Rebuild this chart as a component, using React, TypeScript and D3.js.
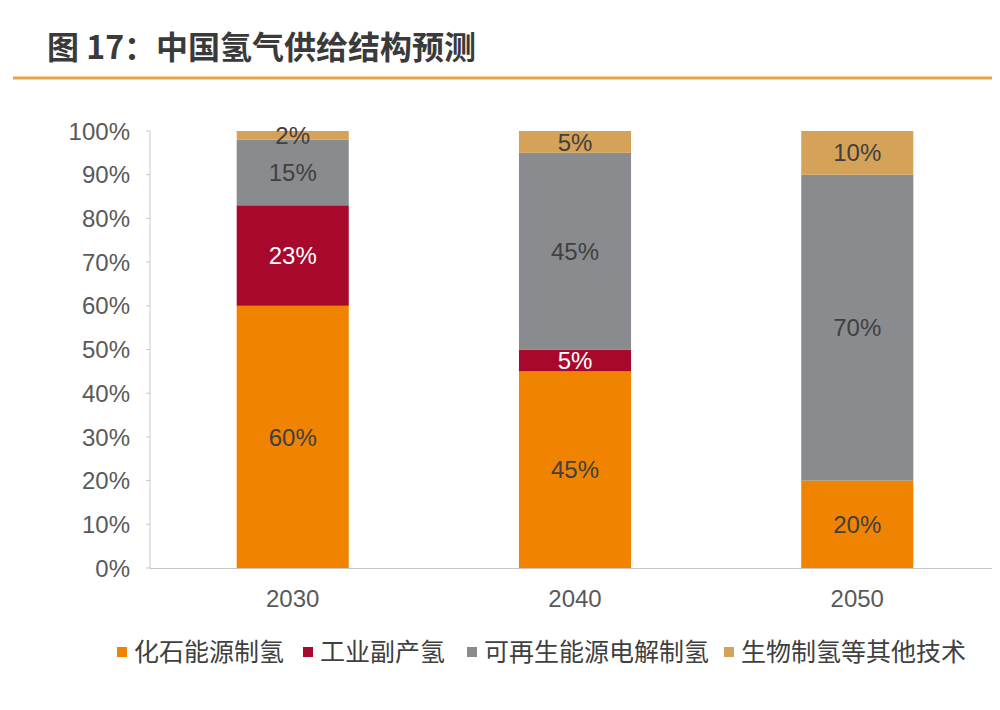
import React from "react";
import * as d3 from "d3";

const title = "图 17：中国氢气供给结构预测";
const years = ["2030", "2040", "2050"];
const seriesNames = ["化石能源制氢", "工业副产氢", "可再生能源电解制氢", "生物制氢等其他技术"];
const fossil = [60, 45, 20];
const industrial = [23, 5, 0];
const renewable = [15, 45, 70];
const biomass = [2, 5, 10];
const yTicks = [0, 10, 20, 30, 40, 50, 60, 70, 80, 90, 100];
const colors = ["#F08300", "#A8082B", "#8A8B8F", "#D4A258"];
const labelColors = ["#404040", "#FFFFFF", "#404040", "#404040"];

const W = 1000;
const H = 710;
const NUM_FONT = "'Liberation Sans', Arial, 'Noto Sans CJK SC', sans-serif";
const CJK_FONT = "'Noto Sans CJK SC', 'Liberation Sans', sans-serif";

export default function App() {
  const series = [fossil, industrial, renewable, biomass];
  const table = years.map((y, i) => {
    const row: any = { year: y };
    seriesNames.forEach((s, k) => (row[s] = series[k][i]));
    return row;
  });
  const stacked = d3.stack<any>().keys(seriesNames)(table);

  const x = d3.scaleBand<string>().domain(years).range([152, 998]).paddingInner(0.603).paddingOuter(0.3);
  const y = d3.scaleLinear().domain([0, 100]).range([568, 131]);

  const legendX = [117, 303, 467, 724];

  return (
    <div style={{ margin: -8, width: W, height: H, background: "#fff" }}>
      <svg width={W} height={H} style={{ display: "block" }}>
        <rect width={W} height={H} fill="#ffffff" />
        <text x={47} y={59} fontFamily={CJK_FONT} fontWeight={700} fontSize={32} fill="#3a3a3a">
          {title}
        </text>
        <line x1={13} x2={1000} y1={78} y2={78} stroke="#E8A445" strokeWidth={3} />

        {/* y axis */}
        <line x1={150} x2={150} y1={y(100)} y2={y(0)} stroke="#C8C8C8" strokeWidth={1} />
        {yTicks.map((t) => (
          <g key={t}>
            <line x1={146} x2={150} y1={y(t)} y2={y(t)} stroke="#C8C8C8" />
            <text
              x={130}
              y={y(t)}
              dy="0.36em"
              textAnchor="end"
              fontFamily={NUM_FONT}
              fontSize={24}
              fill="#595959"
            >
              {t}%
            </text>
          </g>
        ))}

        {/* bars */}
        {stacked.map((layer, k) => (
          <g key={layer.key}>
            {layer.map((d, i) => {
              const v = d[1] - d[0];
              if (v <= 0) return null;
              const x0 = x(years[i])!;
              return (
                <rect
                  key={i}
                  x={x0}
                  y={y(d[1])}
                  width={x.bandwidth()}
                  height={y(d[0]) - y(d[1])}
                  fill={colors[k]}
                />
              );
            })}
          </g>
        ))}
        {stacked.map((layer, k) => (
          <g key={"l" + layer.key}>
            {layer.map((d, i) => {
              const v = d[1] - d[0];
              if (v <= 0) return null;
              return (
                <text
                  key={i}
                  x={x(years[i])! + x.bandwidth() / 2}
                  y={y((d[0] + d[1]) / 2)}
                  dy="0.36em"
                  textAnchor="middle"
                  fontFamily={NUM_FONT}
                  fontSize={24}
                  fill={labelColors[k]}
                >
                  {v}%
                </text>
              );
            })}
          </g>
        ))}

        {/* x axis */}
        <line x1={150} x2={998} y1={y(0) + 0.5} y2={y(0) + 0.5} stroke="#C8C8C8" strokeWidth={1} />
        {years.map((yr) => (
          <text
            key={yr}
            x={x(yr)! + x.bandwidth() / 2}
            y={598}
            dy="0.36em"
            textAnchor="middle"
            fontFamily={NUM_FONT}
            fontSize={24}
            fill="#595959"
          >
            {yr}
          </text>
        ))}

        {/* legend */}
        {seriesNames.map((s, k) => (
          <g key={s}>
            <rect x={legendX[k]} y={647} width={10} height={10} fill={colors[k]} />
            <text
              x={legendX[k] + 17}
              y={652}
              dy="0.36em"
              fontFamily={CJK_FONT}
              fontSize={25}
              fill="#404040"
            >
              {s}
            </text>
          </g>
        ))}
      </svg>
    </div>
  );
}
